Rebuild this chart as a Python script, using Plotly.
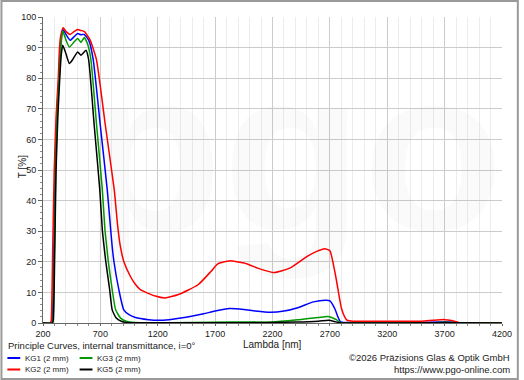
import plotly.graph_objects as go

# ---------------- data ----------------
kg1_nm = [200, 275, 282, 295, 305, 320, 338, 350, 360, 374, 400, 436, 470, 502, 530, 559, 600, 637, 699, 760, 790, 803, 818, 861, 904, 950, 1005, 1120, 1206, 1300, 1400, 1493, 1600, 1700, 1824, 1950, 2050, 2183, 2300, 2420, 2557, 2669, 2700, 2745, 2770, 2790, 2820, 3000, 3500, 3650, 3750, 3850, 4000, 4200]
kg1_t = [0, 0, 1, 25, 50, 68, 80, 90, 93.5, 95.9, 94.3, 92.4, 93.5, 94.6, 94.2, 94.3, 92.3, 86.2, 64.7, 43.5, 30.4, 25.0, 20.1, 10.9, 4.3, 2.7, 1.8, 1.1, 0.9, 1.1, 1.6, 2.2, 3.0, 3.9, 4.7, 4.4, 3.9, 3.5, 3.9, 5.0, 6.9, 7.4, 7.2, 4.5, 2.0, 0.5, 0.2, 0.15, 0.15, 0.3, 0.3, 0.1, 0.05, 0]

kg2_nm = [200, 265, 272, 285, 298, 315, 333, 344, 355, 376, 400, 436, 470, 502, 530, 559, 610, 665, 743, 821, 850, 872, 904, 962, 1000, 1048, 1178, 1264, 1380, 1551, 1665, 1723, 1824, 1953, 2096, 2212, 2355, 2499, 2585, 2654, 2700, 2751, 2800, 2829, 2850, 2900, 3200, 3500, 3600, 3700, 3760, 3820, 3900, 4200]
kg2_t = [0, 0, 1, 25, 50, 68, 80, 90, 94, 96.5, 95.3, 94.3, 95.2, 95.9, 95.6, 95.3, 92.5, 86.2, 64.7, 43.5, 32.0, 25.5, 20.1, 15.2, 12.9, 10.9, 8.8, 8.2, 9.3, 12.5, 16.9, 19.3, 20.3, 19.6, 17.6, 16.5, 18.0, 21.7, 23.4, 24.3, 23.6, 15.2, 4.9, 2.0, 0.9, 0.6, 0.6, 0.6, 0.9, 1.1, 0.8, 0.2, 0.05, 0]

kg3_nm = [200, 280, 287, 300, 310, 325, 342, 356, 364, 372, 400, 430, 470, 502, 531, 559, 590, 617, 667, 717, 740, 755, 769, 803, 833, 876, 930, 1000, 1500, 1850, 2200, 2432, 2600, 2680, 2710, 2760, 2790, 2850, 3600, 3700, 3800, 4200]
kg3_t = [0, 0, 1, 25, 50, 68, 80, 90, 93.5, 95.4, 92.5, 90.2, 91.8, 93.0, 91.7, 93.3, 91.0, 86.2, 64.7, 43.5, 30.4, 25.0, 20.1, 10.9, 4.3, 1.6, 0.5, 0.15, 0.15, 0.35, 0.3, 1.1, 1.8, 2.1, 1.9, 1.0, 0.1, 0, 0.1, 0.25, 0.05, 0]

kg5_nm = [200, 283, 290, 303, 314, 330, 346, 360, 372, 400, 430, 459, 502, 531, 574, 597, 646, 695, 717, 732, 747, 781, 803, 838, 887, 950, 1000, 1500, 2000, 2400, 2600, 2690, 2740, 2780, 2850, 3600, 3700, 3800, 4200]
kg5_t = [0, 0, 1, 25, 50, 68, 80, 88, 90.8, 88.0, 84.8, 86.1, 88.6, 87.5, 89.1, 86.2, 64.7, 43.5, 30.4, 25.0, 20.1, 10.9, 4.3, 1.6, 0.5, 0.1, 0.05, 0.05, 0.1, 0.3, 0.6, 0.9, 0.5, 0.1, 0, 0.05, 0.15, 0.05, 0]

series_names = ["KG1 (2 mm)", "KG2 (2 mm)", "KG3 (2 mm)", "KG5 (2 mm)"]
series_colors = ["#0000ff", "#ff0000", "#009a00", "#000000"]
x_tick_vals = [200, 700, 1200, 1700, 2200, 2700, 3200, 3700, 4200]
y_tick_vals = [0, 10, 20, 30, 40, 50, 60, 70, 80, 90, 100]

FONT = "Liberation Sans, Arial, sans-serif"

fig = go.Figure()
data = [(kg1_nm, kg1_t), (kg2_nm, kg2_t), (kg3_nm, kg3_t), (kg5_nm, kg5_t)]
for (xs, ys), name, col in zip(data, series_names, series_colors):
    fig.add_trace(go.Scatter(x=xs, y=ys, mode="lines", name=name,
                             line=dict(color=col, width=1.5, shape="spline", smoothing=0.5),
                             showlegend=False))

W, H = 524, 380
ml, mr, mt, mb = 43, 17, 17, 57
pw, ph = W - ml - mr, H - mt - mb

def px(xp):
    return (xp - ml) / pw

def py(yp):
    return 1 - (yp - mt) / ph

fig.update_layout(
    width=W, height=H,
    margin=dict(l=ml, r=mr, t=mt, b=mb),
    paper_bgcolor="white", plot_bgcolor="white",
    font=dict(family=FONT, size=9, color="#222"),
    xaxis=dict(range=[200, 4200], tickvals=x_tick_vals, ticks="outside", ticklen=2,
               tickcolor="#666", showline=True, linecolor="#666", linewidth=1,
               showgrid=True, gridcolor="#cccccc", gridwidth=1, zeroline=False,
               minor=dict(dtick=100, tick0=200, showgrid=True, gridcolor="#ececec",
                          ticks="outside", ticklen=2, tickcolor="#888"),
               tickfont=dict(size=9, color="#222")),
    yaxis=dict(range=[0, 100], tickvals=y_tick_vals, ticks="outside", ticklen=4,
               tickcolor="#666", showline=True, linecolor="#666", linewidth=1,
               showgrid=True, gridcolor="#cccccc", gridwidth=1, zeroline=False,
               minor=dict(dtick=2, showgrid=False, ticks="outside", ticklen=2, tickcolor="#888"),
               tickfont=dict(size=9, color="#222")),
)

annotations = []
shapes = []
# watermark
annotations.append(dict(text="<b>pgo</b>", x=px(295), y=py(150), xref="paper", yref="paper",
                        showarrow=False, xanchor="center", yanchor="middle",
                        font=dict(size=230, color="rgba(0,0,0,0.018)")))
# axis titles
annotations.append(dict(text="T [%]", x=px(22), y=py(167), xref="paper", yref="paper",
                        textangle=-90, showarrow=False, font=dict(size=10, color="#222"),
                        xanchor="center", yanchor="middle"))
annotations.append(dict(text="Lambda [nm]", x=px(275), y=py(344), xref="paper", yref="paper",
                        showarrow=False, font=dict(size=10, color="#222"),
                        xanchor="center", yanchor="middle"))
# chart caption
annotations.append(dict(text="Principle Curves, internal transmittance, i=0°", x=px(6), y=py(345),
                        xref="paper", yref="paper", showarrow=False, xanchor="left", yanchor="middle",
                        font=dict(size=9.5, color="#222")))
# legend (two columns)
leg_pos = [(7, 358), (7, 369.5), (80, 358), (80, 369.5)]
for (lx, ly), name, col in zip(leg_pos, series_names, series_colors):
    shapes.append(dict(type="line", xref="paper", yref="paper", x0=px(lx), x1=px(lx + 13),
                       y0=py(ly), y1=py(ly), line=dict(color=col, width=2)))
    annotations.append(dict(text=name, x=px(lx + 16), y=py(ly), xref="paper", yref="paper",
                            showarrow=False, xanchor="left", yanchor="middle",
                            font=dict(size=8, color="#222")))
# copyright
annotations.append(dict(text="©2026 Präzisions Glas & Optik GmbH", x=px(517), y=py(357),
                        xref="paper", yref="paper", showarrow=False, xanchor="right", yanchor="middle",
                        font=dict(size=9.5, color="#222")))
annotations.append(dict(text="https://www.pgo-online.com", x=px(517), y=py(369),
                        xref="paper", yref="paper", showarrow=False, xanchor="right", yanchor="middle",
                        font=dict(size=9.5, color="#222")))
# outer frame
shapes.append(dict(type="rect", xref="paper", yref="paper", x0=px(1), x1=px(523), y0=py(379), y1=py(1),
                   line=dict(color="#9a9a9a", width=2), layer="below"))

fig.update_layout(annotations=annotations, shapes=shapes)
fig.write_html("out.html")
